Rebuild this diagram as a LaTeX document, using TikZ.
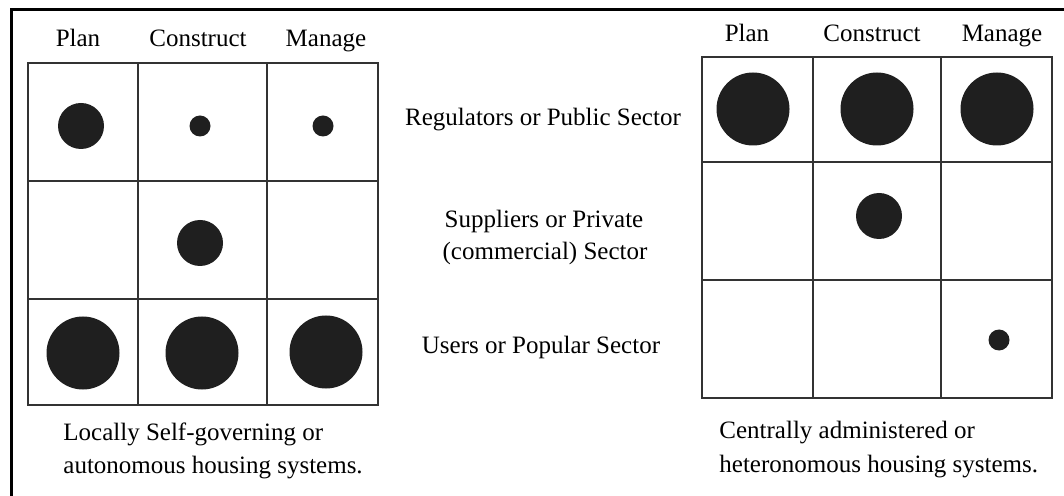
\documentclass[tikz,border=0pt]{standalone}
\usepackage{fontspec}
\setmainfont{Liberation Serif}
\usetikzlibrary{
    positioning,
}

\begin{document}
\begin{tikzpicture}[
    x=0.5pt, y=-0.5pt,
    frame/.style={line width=1.5pt, draw=black},
    celllines/.style={line width=1pt, draw=black!80, line cap=rect},
    dot/.style={circle, fill=black!88, inner sep=0pt},
    dotsmall/.style={dot, minimum size=10.5pt},
    dotmid/.style={dot, minimum size=23pt},
    dotbig/.style={dot, minimum size=36.5pt},
    textbox/.style={inner sep=0pt, font=\fontsize{12.5pt}{16.5pt}\selectfont},
]

\useasboundingbox (0,0) rectangle (1064,496);
\draw[frame] (1064,9.5) -- (11.5,9.5) -- (11.5,496);

% left grid
\foreach \x in {28,138,267,378} \draw[celllines] (\x,63) -- (\x,405);
\foreach \y in {63,181,299,405} \draw[celllines] (28,\y) -- (378,\y);

% right grid
\foreach \x in {702,813,941,1052} \draw[celllines] (\x,57) -- (\x,398);
\foreach \y in {57,162,280,398} \draw[celllines] (702,\y) -- (1052,\y);

\node[textbox, anchor=base] (lplan) at (78,47) {Plan};
\node[textbox, anchor=base] (lcons) at (198,47) {Construct};
\node[textbox, anchor=base] (lman) at (326,47) {Manage};

\node[textbox, anchor=base] (rplan) at (747,42) {Plan};
\node[textbox, anchor=base] (rcons) at (872,42) {Construct};
\node[textbox, anchor=base] (rman) at (1002,42) {Manage};

\node[dotmid] (l11) at (81,126) {};
\node[dotsmall] (l12) at (200,126) {};
\node[dotsmall] (l13) at (323,126) {};
\node[dotmid] (l22) at (200,243) {};
\node[dotbig] (l31) at (83,353) {};
\node[dotbig] (l32) at (202,353) {};
\node[dotbig] (l33) at (326,352) {};

\node[dotbig] (r11) at (753,109) {};
\node[dotbig] (r12) at (877,109) {};
\node[dotbig] (r13) at (997,109) {};
\node[dotmid] (r22) at (879,216) {};
\node[dotsmall] (r33) at (999,340) {};

\node[textbox, anchor=base] (public) at (543,126) {Regulators or Public Sector};
\node[textbox, anchor=base] (private1) at (544,228) {Suppliers or Private};
\node[textbox, anchor=base] (private2) at (545,260) {(commercial) Sector};
\node[textbox, anchor=base] (popular) at (541,353) {Users or Popular Sector};

\node[textbox, anchor=base west] (local1) at (63,440) {Locally Self-governing or};
\node[textbox, anchor=base west] (local2) at (63,473) {autonomous housing systems.};
\node[textbox, anchor=base west] (central1) at (719,438) {Centrally administered or};
\node[textbox, anchor=base west] (central2) at (719,472) {heteronomous housing systems.};

\end{tikzpicture}
\end{document}
